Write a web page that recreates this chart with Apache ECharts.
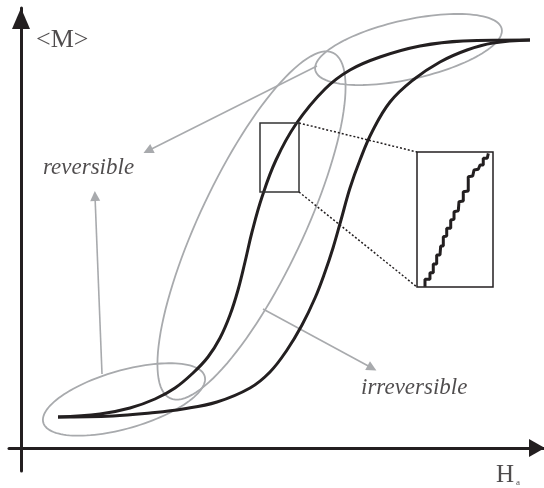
<!DOCTYPE html>
<html>
<head>
<meta charset="utf-8">
<script src="https://cdn.jsdelivr.net/npm/echarts@6/dist/echarts.min.js"></script>
<style>
  html, body { margin: 0; padding: 0; background: #ffffff; }
  #chart { width: 544px; height: 488px; }
</style>
</head>
<body>
<div id="chart"></div>
<script>
// Applied field H_a (x) and mean magnetisation <M> (y), arbitrary units.

// Descending branch (left curve of the loop)
const descendingBranch = [
  [7.4, 7.75], [15.8, 8.5], [21.8, 10], [26.8, 12.25], [30.8, 15], [34.4, 18.75],
  [37.4, 22.75], [39.8, 27.5], [41.8, 33.25], [43.4, 39.5], [44.8, 46.5], [46.2, 54],
  [48.2, 62.75], [51, 72], [55, 81], [60.8, 89.75], [65.8, 94.5], [71.8, 97.75],
  [79.8, 100.5], [88.4, 101.75], [101.8, 102]
];

// Ascending branch (right curve of the loop)
const ascendingBranch = [
  [7.4, 7.75], [18.4, 8], [25.8, 8.75], [32.4, 9.75], [39.2, 11.5], [45.8, 15],
  [49.8, 19], [53.2, 24.5], [56.2, 30.75], [58.8, 37.5], [60.8, 44], [62.4, 50],
  [64, 57], [65.8, 65], [67.8, 72], [70.2, 79], [73.8, 86.5], [78.4, 92],
  [83.8, 96.5], [89.2, 99.5], [94.4, 101.25], [101.8, 102]
];

// Highlighted regions: major-axis end points and minor/major ratio
const regionEllipses = [
  [4.46, 6.33, 36.74, 17.93, 0.345],   // reversible, low field
  [29.8, 12.45, 62.4, 98.8, 0.272],    // irreversible, steep part
  [58.86, 94.45, 96.14, 104.8, 0.31]   // reversible, saturation
];

// Pointer arrows (from -> to)
const pointerArrows = [
  [[59.2, 95.5], [25.4, 74.3]],
  [[16.2, 18.5], [14.8, 63]],
  [[48.4, 34.75], [70.2, 20]]
];

// Magnified window on the descending branch
const zoomX = [47.8, 55.6];
const zoomY = [64, 81.25];

// Barkhausen steps seen inside the magnified window
const barkhausenSteps = [
  [48.62, 64.04], [48.62, 64.98], [49.13, 64.98], [49.13, 65.83], [49.47, 65.83],
  [49.47, 66.94], [49.82, 66.94], [49.82, 68.09], [50.16, 68.09], [50.23, 69.24],
  [50.50, 69.24], [50.50, 70.43], [50.85, 70.52], [50.85, 71.50], [51.26, 71.50],
  [51.26, 72.56], [51.60, 72.65], [51.60, 73.62], [52.04, 73.75], [52.11, 74.90],
  [52.55, 74.99], [52.55, 76.18], [53.06, 76.27], [53.06, 78.09], [53.52, 78.18],
  [53.65, 78.95], [54.09, 79.04], [54.27, 79.59], [54.60, 79.59], [54.60, 80.45],
  [55.01, 80.45], [55.12, 81.08]
];

// Dotted guides from the window to the enlarged view
const zoomGuides = [
  [[55.6, 81.25], [79.2, 74]],
  [[55.6, 64], [79.2, 40.25]]
];

// Text annotations
const annotationText = ['<M>', 'reversible', 'irreversible', 'H', 'a'];
const annotationPos = [[3, 101.9], [4.4, 70.1], [68, 15.1], [95, -6.8], [99, -8.75]];
const annotationStyle = [
  { fontSize: 26, fontStyle: 'normal' },
  { fontSize: 23, fontStyle: 'italic' },
  { fontSize: 23, fontStyle: 'italic' },
  { fontSize: 25, fontStyle: 'normal' },
  { fontSize: 9, fontStyle: 'normal' }
];

const INK = '#231f20';
const GREY = '#a8aaad';
const SERIF = 'Liberation Serif';

const chart = echarts.init(document.getElementById('chart'), null, { renderer: 'canvas' });

const hiddenAxis = {
  axisTick: { show: false },
  axisLabel: { show: false },
  splitLine: { show: false }
};

chart.setOption({
  animation: false,
  backgroundColor: '#ffffff',
  grid: [
    { left: 9, right: 0, top: 8, bottom: 17, show: false },
    { left: 417, top: 152, width: 76, height: 135, show: true,
      borderColor: INK, borderWidth: 1.5, backgroundColor: 'transparent' }
  ],
  xAxis: [
    Object.assign({
      type: 'value', gridIndex: 0, min: -2.4, max: 104.6,
      axisLine: { show: true, onZero: true, symbol: ['none', 'triangle'],
        symbolSize: [18, 16], symbolOffset: [0, -7],
        lineStyle: { color: INK, width: 3 } }
    }, hiddenAxis),
    Object.assign({
      type: 'value', gridIndex: 1, min: zoomX[0], max: zoomX[1],
      axisLine: { show: false }
    }, hiddenAxis)
  ],
  yAxis: [
    Object.assign({
      type: 'value', gridIndex: 0, min: -5.75, max: 110,
      axisLine: { show: true, onZero: true, symbol: ['none', 'triangle'],
        symbolSize: [18, 21], symbolOffset: [0, -10.5],
        lineStyle: { color: INK, width: 3 } }
    }, hiddenAxis),
    Object.assign({
      type: 'value', gridIndex: 1, min: zoomY[0], max: zoomY[1],
      axisLine: { show: false }
    }, hiddenAxis)
  ],
  series: [
    {
      type: 'custom', name: 'regions', xAxisIndex: 0, yAxisIndex: 0, silent: true,
      data: regionEllipses,
      renderItem: function (params, api) {
        const p1 = api.coord([api.value(0), api.value(1)]);
        const p2 = api.coord([api.value(2), api.value(3)]);
        const cx = (p1[0] + p2[0]) / 2, cy = (p1[1] + p2[1]) / 2;
        const dx = (p2[0] - p1[0]) / 2, dy = (p2[1] - p1[1]) / 2;
        const a = Math.sqrt(dx * dx + dy * dy);
        const b = a * api.value(4);
        const ux = dx / a, uy = dy / a;     // major direction
        const vx = -uy, vy = ux;            // minor direction
        const pts = [];
        for (let i = 0; i < 120; i++) {
          const t = i / 120 * Math.PI * 2;
          const c = Math.cos(t) * a, s = Math.sin(t) * b;
          pts.push([cx + c * ux + s * vx, cy + c * uy + s * vy]);
        }
        return {
          type: 'polygon', shape: { points: pts },
          style: { fill: 'none', stroke: GREY, lineWidth: 1.8 }
        };
      },
      z: 2
    },
    {
      type: 'lines', name: 'pointers', coordinateSystem: 'cartesian2d',
      xAxisIndex: 0, yAxisIndex: 0, silent: true,
      symbol: ['none', 'triangle'], symbolSize: [7, 10],
      lineStyle: { color: GREY, width: 1.6, opacity: 1 },
      data: pointerArrows.map(function (c) { return { coords: c }; }),
      z: 2
    },
    {
      type: 'line', name: 'descending', xAxisIndex: 0, yAxisIndex: 0,
      data: descendingBranch, showSymbol: false, smooth: 0.4,
      lineStyle: { color: INK, width: 3 }, silent: true, z: 4
    },
    {
      type: 'line', name: 'ascending', xAxisIndex: 0, yAxisIndex: 0,
      data: ascendingBranch, showSymbol: false, smooth: 0.4,
      lineStyle: { color: INK, width: 3 }, silent: true, z: 4
    },
    {
      type: 'custom', name: 'window', xAxisIndex: 0, yAxisIndex: 0, silent: true,
      data: [[zoomX[0], zoomY[0], zoomX[1], zoomY[1]]],
      renderItem: function (params, api) {
        const p1 = api.coord([api.value(0), api.value(1)]);
        const p2 = api.coord([api.value(2), api.value(3)]);
        return {
          type: 'rect',
          shape: { x: Math.min(p1[0], p2[0]), y: Math.min(p1[1], p2[1]),
                   width: Math.abs(p2[0] - p1[0]), height: Math.abs(p2[1] - p1[1]) },
          style: { fill: 'none', stroke: '#333333', lineWidth: 1.5 }
        };
      },
      z: 5
    },
    {
      type: 'lines', name: 'guides', coordinateSystem: 'cartesian2d',
      xAxisIndex: 0, yAxisIndex: 0, silent: true, symbol: 'none',
      lineStyle: { color: INK, width: 1.5, type: [2, 2], opacity: 1 },
      data: zoomGuides.map(function (c) { return { coords: c }; }),
      z: 5
    },
    {
      type: 'line', name: 'steps', xAxisIndex: 1, yAxisIndex: 1,
      data: barkhausenSteps, showSymbol: false, smooth: false,
      lineStyle: { color: INK, width: 3 }, silent: true, z: 5
    },
    {
      type: 'scatter', name: 'annotations', xAxisIndex: 0, yAxisIndex: 0,
      symbolSize: 0, clip: false, silent: true, z: 6,
      data: annotationText.map(function (t, i) {
        return {
          name: t,
          value: annotationPos[i],
          label: {
            show: true, position: [0, 0], align: 'left', verticalAlign: 'middle',
            formatter: '{b}', color: INK, fontFamily: SERIF,
            fontSize: annotationStyle[i].fontSize, fontStyle: annotationStyle[i].fontStyle
          }
        };
      })
    }
  ]
});
</script>
</body>
</html>
